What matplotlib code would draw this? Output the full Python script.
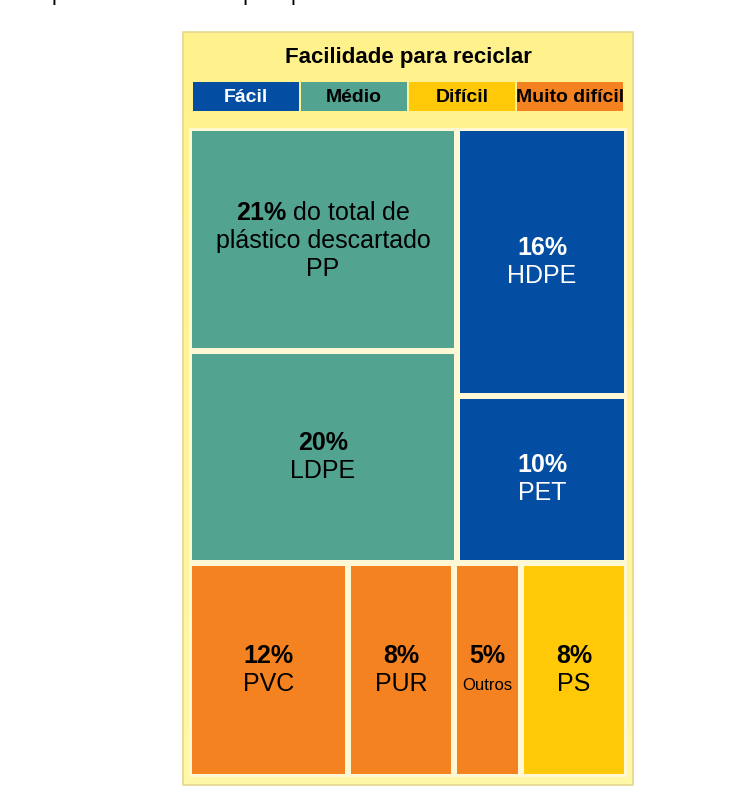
import matplotlib.pyplot as plt
from matplotlib.patches import Rectangle
import numpy as np

plt.rcParams['font.family'] = ['Liberation Sans', 'DejaVu Sans']
plt.rcParams['mathtext.fontset'] = 'custom'
plt.rcParams['mathtext.rm'] = 'Liberation Sans'
plt.rcParams['mathtext.bf'] = 'Liberation Sans:bold'

# legend: ease of recycling
levels = ['Fácil', 'Médio', 'Difícil', 'Muito difícil']
level_colors = ['#034EA2', '#52A491', '#FFC907', '#F58220']
level_text = ['white', 'black', 'black', 'black']

# treemap blocks (share of all discarded plastic, %)
left_names = ['PP', 'LDPE']
left_shares = [21, 20]
left_levels = ['Médio', 'Médio']

right_names = ['HDPE', 'PET']
right_shares = [16, 10]
right_levels = ['Fácil', 'Fácil']

bottom_names = ['PVC', 'PUR', 'Outros', 'PS']
bottom_shares = [12, 8, 5, 8]
bottom_levels = ['Muito difícil', 'Muito difícil', 'Muito difícil', 'Difícil']

title = 'Facilidade para reciclar'
top_text = 'plástico descartado por tipo e facilidade de reciclar'

fig = plt.figure(figsize=(7.48, 8.02), dpi=100)
ax = fig.add_axes([0, 0, 1, 1])

# panel with soft yellow gradient
grad = np.linspace(0, 1, 200).reshape(-1, 1)
c_top = np.array([255, 242, 140]) / 255
c_bot = np.array([255, 247, 168]) / 255
img = c_top + grad[..., None] * (c_bot - c_top)
img = np.repeat(img, 2, axis=1)
ax.imshow(img, extent=[183, 633, 785, 32], aspect='auto', zorder=0)
ax.add_patch(Rectangle((183, 32), 450, 753, fill=False, edgecolor='#E3D88E', lw=1.2, zorder=1))

ax.text(408, 57, title, ha='center', va='center', fontsize=16, fontweight='bold')

# legend boxes
lx0, lx1, ly, lh = 192, 624, 82, 29
lw_box = (lx1 - lx0) / len(levels)
for i, (lab, col, tc) in enumerate(zip(levels, level_colors, level_text)):
    ax.add_patch(Rectangle((lx0 + i * lw_box + 0.75, ly), lw_box - 1.5, lh,
                           facecolor=col, edgecolor='none', zorder=2))
    ax.text(lx0 + (i + 0.5) * lw_box, ly + lh / 2 + 1, lab, ha='center', va='center',
            fontsize=14, fontweight='bold', color=tc, zorder=3)

color_of = dict(zip(levels, level_colors))
tcolor_of = dict(zip(levels, level_text))

# treemap area
tx0, tx1, ty0, ty1 = 189, 627, 128, 777
pad = 3
ax.add_patch(Rectangle((tx0, ty0), tx1 - tx0, ty1 - ty0, facecolor='#FFF8D4',
                       edgecolor='none', zorder=1.5))

total = sum(left_shares) + sum(right_shares) + sum(bottom_shares)
H = ty1 - ty0
W = tx1 - tx0
h_bottom = H * sum(bottom_shares) / total
h_top = H - h_bottom
w_left = W * sum(left_shares) / (sum(left_shares) + sum(right_shares))

cells = []
y = ty0
for n, s, lv in zip(left_names, left_shares, left_levels):
    h = h_top * s / sum(left_shares)
    cells.append((n, s, lv, tx0, y, w_left, h))
    y += h
y = ty0
for n, s, lv in zip(right_names, right_shares, right_levels):
    h = h_top * s / sum(right_shares)
    cells.append((n, s, lv, tx0 + w_left, y, W - w_left, h))
    y += h
x = tx0
for n, s, lv in zip(bottom_names, bottom_shares, bottom_levels):
    w = W * s / sum(bottom_shares)
    cells.append((n, s, lv, x, ty0 + h_top, w, h_bottom))
    x += w

ls = 28
for n, s, lv, x, y, w, h in cells:
    ax.add_patch(Rectangle((x + pad, y + pad), w - 2 * pad, h - 2 * pad,
                           facecolor=color_of[lv], edgecolor='none', zorder=2))
    cx, cy = x + w / 2, y + h / 2
    tc = tcolor_of[lv]
    if n == 'PP':
        ax.text(cx, cy - ls + 2, r'$\mathbf{%d\%%}$ do total de' % s, ha='center', va='center',
                fontsize=18, color=tc, zorder=3)
        ax.text(cx, cy + 2, 'plástico descartado', ha='center', va='center',
                fontsize=18, color=tc, zorder=3)
        ax.text(cx, cy + ls + 2, n, ha='center', va='center', fontsize=18, color=tc, zorder=3)
    else:
        ax.text(cx, cy - ls / 2, '%d%%' % s, ha='center', va='center',
                fontsize=18, fontweight='bold', color=tc, zorder=3)
        ax.text(cx, cy + ls / 2 + (2 if n == 'Outros' else 0), n, ha='center', va='center',
                fontsize=12 if n == 'Outros' else 18, color=tc, zorder=3)

# title line cut off above the image (as in the reference)
ax.text(52, 0, top_text, ha='left', va='baseline', fontsize=15.5, color='black', clip_on=False)

ax.set_xlim(0, 748)
ax.set_ylim(802, 0)
ax.axis('off')
fig.savefig('out.png', dpi=100)
